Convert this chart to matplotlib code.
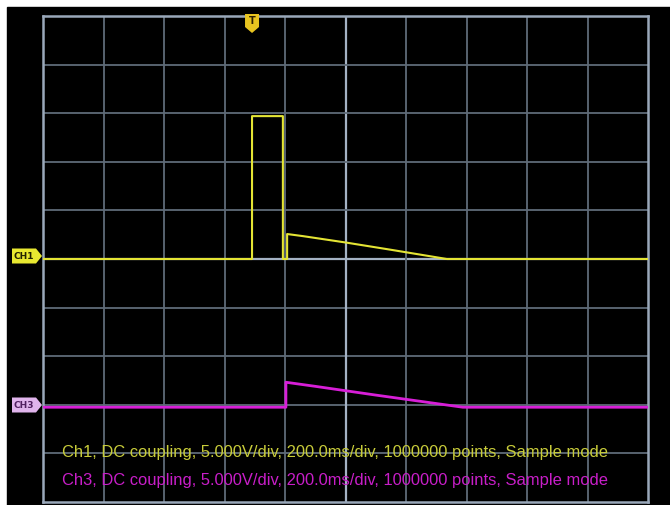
import matplotlib
matplotlib.use("Agg")
import matplotlib.pyplot as plt
from matplotlib.patches import Rectangle, Polygon
import numpy as np

# ---- data (time in ms from left edge of screen, volts) ----
ch1_time = [0, 691, 691, 793, 793, 807, 807, 860, 1000, 1150, 1335, 2000]
ch1_volt = [0, 0, 14.7, 14.7, 0, 0, 2.57, 2.35, 1.70, 0.95, 0, 0]
ch3_time = [0, 803, 803, 900, 1100, 1300, 1388, 2000]
ch3_volt = [0, 0, 2.57, 2.15, 1.25, 0.38, 0, 0]
trigger_time = 691
ch1_info = "Ch1, DC coupling, 5.000V/div, 200.0ms/div, 1000000 points, Sample mode"
ch3_info = "Ch3, DC coupling, 5.000V/div, 200.0ms/div, 1000000 points, Sample mode"

volts_per_div = 5.0
ms_per_div = 200.0
ch1_offset_div = 0.0
ch3_offset_div = -3.05

W, H = 670, 505
fig = plt.figure(figsize=(W / 100, H / 100), dpi=100)
fig.patch.set_facecolor("white")

# background layer in pixel coords (black screen)
bg = fig.add_axes([0, 0, 1, 1], facecolor="none", zorder=0)
bg.set_xlim(0, W)
bg.set_ylim(H, 0)
bg.axis("off")
bg.add_patch(Rectangle((7, 7), W - 7, H - 7, color="black", zorder=0))

# graticule axes
x0, x1, y0, y1 = 43, 648, 16, 502
ax = fig.add_axes([x0 / W, 1 - y1 / H, (x1 - x0) / W, (y1 - y0) / H], zorder=1)
ax.set_facecolor("black")
ax.set_xlim(0, 10 * ms_per_div)
ax.set_ylim(-5, 5)
ax.set_xticks([])
ax.set_yticks([])
for s in ax.spines.values():
    s.set_color("#9aa8ba")
    s.set_linewidth(1.8)

grid_col = "#5f6b78"
for i in range(1, 10):
    xv = i * ms_per_div
    ax.axvline(xv, color="#a4b2c4" if i == 5 else grid_col,
               lw=1.6 if i == 5 else 1.3, zorder=1)
    yv = i - 5
    ax.axhline(yv, color="#a4b2c4" if i == 5 else grid_col,
               lw=1.6 if i == 5 else 1.3, zorder=1)

ch1_y = np.array(ch1_volt) / volts_per_div + ch1_offset_div
ch3_y = np.array(ch3_volt) / volts_per_div + ch3_offset_div
ax.plot(ch1_time, ch1_y, color="#e4e434", lw=1.5, zorder=3)
ax.plot(ch3_time, ch3_y, color="#d81ed8", lw=2.0, zorder=3)

# overlay in pixel coords for markers / text
ov = fig.add_axes([0, 0, 1, 1], facecolor="none", zorder=2)
ov.set_xlim(0, W)
ov.set_ylim(H, 0)
ov.axis("off")

def tag(yc, text, fc, tc):
    pts = [(12, yc - 7.5), (36, yc - 7.5), (42, yc), (36, yc + 7.5), (12, yc + 7.5)]
    ov.add_patch(Polygon(pts, closed=True, fc=fc, ec="none", zorder=5))
    ov.text(24, yc + 0.5, text, color=tc, fontsize=6.5, fontweight="bold",
            ha="center", va="center", family="DejaVu Sans", zorder=6)

tag(256, "CH1", "#e8e830", "#202000")
tag(405, "CH3", "#e0b4ec", "#502060")

# trigger marker
tx = x0 + trigger_time / (10 * ms_per_div) * (x1 - x0)
ov.add_patch(Polygon([(tx - 7, 14), (tx + 7, 14), (tx + 7, 27), (tx, 33), (tx - 7, 27)],
                     closed=True, fc="#e8c420", ec="none", zorder=5))
ov.text(tx, 21.5, "T", color="#302000", fontsize=7, fontweight="bold",
        ha="center", va="center", zorder=6)

ov.text(62, 453, ch1_info, color="#c8cc3a", fontsize=11.9, family="Liberation Sans",
        ha="left", va="center", zorder=6)
ov.text(62, 481, ch3_info, color="#c81ec8", fontsize=11.9, family="Liberation Sans",
        ha="left", va="center", zorder=6)

fig.savefig("out.png", dpi=100, facecolor=fig.get_facecolor())
